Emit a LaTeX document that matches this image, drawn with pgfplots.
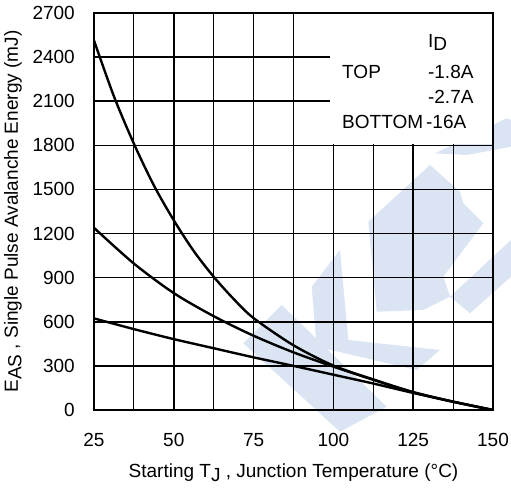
\documentclass[border=0pt]{standalone}
\usepackage{pgfplots}
\pgfplotsset{compat=1.18}
\usepackage{fontspec}
\setmainfont{Liberation Sans}
\definecolor{wm}{RGB}{218,228,242}
\pgfdeclarelayer{background}
\pgfsetlayers{background,main}
\newcommand{\fs}{\fontsize{19}{22}\selectfont}
\newcommand{\sub}[1]{\raisebox{-0.35ex}{#1}}
\begin{document}
\begin{tikzpicture}
\begin{axis}[
  scale only axis, width=399pt, height=397pt,
  xmin=25, xmax=150, ymin=0, ymax=2700,
  xtick={25,50,75,100,125,150},
  minor xtick={37.5,62.5,87.5,112.5,137.5},
  ytick={0,300,600,900,1200,1500,1800,2100,2400,2700},
  grid=both,
  major grid style={black, line width=1.6pt},
  minor grid style={black, line width=1.1pt},
  major tick length=0pt, minor tick length=0pt,
  axis line style={black, line width=2.6pt},
  /pgf/number format/assume math mode=true,
  /pgf/number format/1000 sep={},
  tick label style={font=\fs, inner sep=0pt},
  yticklabel style={xshift=-19pt},
  xticklabel style={yshift=-23pt},
  xlabel={Starting T\sub{J} , Junction Temperature (°C)},
  ylabel={E\sub{AS} , Single Pulse Avalanche Energy (mJ)},
  label style={font=\fs},
  xlabel style={at={(axis description cs:0.5,0)}, anchor=center, yshift=-63pt},
  ylabel style={at={(axis description cs:0,0.5)}, anchor=center, yshift=81pt},
]
\fill[white] (axis cs:98.9,1812) rectangle (axis cs:150,2700);
\addplot[black, line width=2.4pt, smooth] coordinates {
(25,2513) (31.25,2133) (37.5,1811) (43.75,1528) (50,1290) (56.25,1081) (62.5,906) (68.75,755) (75,625) (87.5,440) (100,302) (112.5,208) (125,122) (137.5,57) (150,0)};
\addplot[black, line width=2.4pt, smooth] coordinates {
(25,1239) (37.5,996) (50,795) (62.5,638) (75,505) (87.5,392) (100,295) (112.5,205) (125,120) (137.5,56) (150,0)};
\addplot[black, line width=2.4pt, smooth] coordinates {
(25,623) (37.5,550) (50,482) (62.5,420) (75,358) (87.5,300) (100,240) (112.5,180) (125,116) (137.5,56) (150,0)};
\draw[black, line width=2.6pt] (rel axis cs:0,0) rectangle (rel axis cs:1,1);
\node[anchor=west, inner sep=0pt, font=\fs] at (axis cs:129.6,2500) {I\sub{D}};
\node[anchor=west, inner sep=0pt, font=\fs] at (axis cs:102.7,2299) {TOP};
\node[anchor=west, inner sep=0pt, font=\fs] at (axis cs:129.6,2299) {-1.8A};
\node[anchor=west, inner sep=0pt, font=\fs] at (axis cs:129.6,2129) {-2.7A};
\node[anchor=west, inner sep=0pt, font=\fs] at (axis cs:102.7,1959) {BOTTOM};
\node[anchor=west, inner sep=0pt, font=\fs] at (axis cs:129.0,1959) {-16A};
\end{axis}
\begin{pgfonlayer}{background}
\begin{scope}[shift={(current axis.south west)}, x=1pt, y=1pt]
\fill[wm] (149.3,66.7) -- (187.7,105) -- (292.7,3.3) -- (246,-21.7) -- cycle;
\fill[wm] (217.7,123.3) -- (246,160) -- (254.3,70) -- (346,60) -- (322.7,40) -- (222.7,63.3) -- cycle;
\fill[wm] (274.3,188.3) -- (336,245) -- (366,218.3) -- (369.3,206.7) -- (389.3,186.7) -- (349.3,133.3) -- (356,113.3) -- (329.3,100) -- (282.7,98.3) -- cycle;
\fill[wm] (356,113.3) -- (417,170) -- (417,133.3) -- (376,96.7) -- cycle;
\fill[wm] (341,256.7) -- (412.7,291.7) -- (417,290) -- (417,263.3) -- (372.7,255) -- cycle;
\end{scope}
\end{pgfonlayer}
\path (current axis.south west) ++(-94pt,-79pt) rectangle ([shift={(18pt,13pt)}]current axis.north east);
\end{tikzpicture}
\end{document}
